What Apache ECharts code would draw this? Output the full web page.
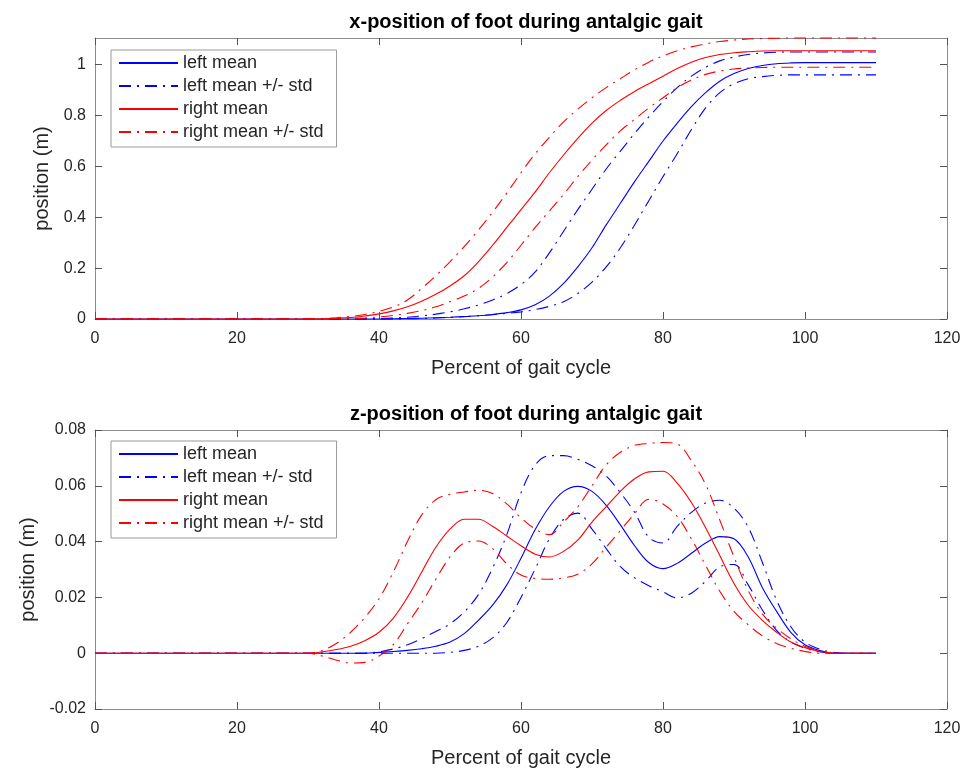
<!DOCTYPE html>
<html>
<head>
<meta charset="utf-8">
<script src="https://cdn.jsdelivr.net/npm/echarts@6/dist/echarts.min.js"></script>
<style>html,body{margin:0;padding:0;background:#fff;}#c{width:973px;height:773px;}</style>
</head>
<body>
<div id="c"></div>
<script>
// Percent of gait cycle (shared x values)
const xPct = [0,20,28,30,32,34,36,38,40,42,44,46,48,50,52,54,56,58,60,62,64,66,68,70,72,74,76,78,80,82,84,86,88,90,92,94,96,98,100,102,104,106,108,110];

// x-position (m)
const leftMeanX = [0,0, 0,0,0,0,0,0,0,0.001,0.002,0.003,0.005,0.007,0.01,0.013,0.018,0.025,0.036,0.056,0.09,0.14,0.205,0.28,0.37,0.455,0.54,0.62,0.7,0.77,0.835,0.89,0.935,0.965,0.985,0.997,1.004,1.007,1.008,1.008,1.008,1.008,1.008,1.008];
const leftUpX   = [0,0, 0,0,0,0,0,0.001,0.002,0.004,0.007,0.012,0.019,0.028,0.04,0.055,0.075,0.1,0.135,0.185,0.26,0.345,0.43,0.51,0.59,0.66,0.73,0.795,0.855,0.91,0.955,0.99,1.015,1.03,1.04,1.046,1.049,1.05,1.05,1.05,1.05,1.05,1.05,1.05];
const leftLoX   = [0,0, 0,0,0,0,0,0,0,0,0.001,0.002,0.004,0.006,0.009,0.013,0.017,0.022,0.028,0.037,0.05,0.068,0.1,0.145,0.205,0.28,0.37,0.465,0.56,0.65,0.745,0.83,0.89,0.925,0.945,0.953,0.958,0.96,0.96,0.96,0.96,0.96,0.96,0.96];
const rightMeanX = [0,0, 0,0,0.001,0.003,0.006,0.012,0.02,0.032,0.048,0.07,0.097,0.13,0.17,0.225,0.29,0.36,0.43,0.5,0.575,0.645,0.71,0.77,0.82,0.86,0.895,0.925,0.955,0.985,1.01,1.028,1.04,1.047,1.051,1.054,1.055,1.055,1.055,1.055,1.055,1.055,1.055,1.055];
const rightUpX   = [0,0, 0,0.001,0.002,0.005,0.01,0.018,0.03,0.047,0.075,0.12,0.17,0.225,0.285,0.35,0.42,0.495,0.575,0.65,0.715,0.775,0.825,0.87,0.91,0.945,0.98,1.01,1.035,1.055,1.07,1.082,1.091,1.097,1.101,1.103,1.104,1.105,1.105,1.105,1.105,1.105,1.105,1.105];
const rightLoX   = [0,0, 0,0,0,0.001,0.002,0.004,0.008,0.014,0.022,0.033,0.048,0.068,0.09,0.12,0.165,0.222,0.29,0.36,0.425,0.49,0.56,0.625,0.685,0.74,0.785,0.83,0.87,0.91,0.94,0.962,0.975,0.983,0.987,0.989,0.99,0.99,0.99,0.99,0.99,0.99,0.99,0.99];

// z-position (m)
const leftMeanZ = [0,0, 0,0,0,0,0,0,0.0003,0.0006,0.001,0.0016,0.0025,0.004,0.007,0.0118,0.0172,0.0245,0.034,0.0443,0.0525,0.058,0.0598,0.058,0.053,0.046,0.0385,0.0325,0.0303,0.0322,0.0358,0.0395,0.0418,0.041,0.0345,0.0235,0.015,0.0075,0.003,0.001,0,0,0,0];
const leftUpZ   = [0,0, 0,0,0,0,0,0,0.0005,0.0015,0.003,0.0052,0.0078,0.0105,0.0148,0.021,0.0305,0.0425,0.0575,0.0675,0.0708,0.0708,0.0695,0.0672,0.0635,0.0575,0.0505,0.0415,0.0395,0.0455,0.0505,0.0538,0.0548,0.052,0.0452,0.0325,0.019,0.0095,0.004,0.0015,0.0003,0,0,0];
const leftLoZ   = [0,0, 0,0,0,0,0,0,0,0,0,0,0,0.0003,0.001,0.0025,0.0055,0.011,0.02,0.0302,0.041,0.048,0.0502,0.0445,0.0375,0.031,0.027,0.0242,0.022,0.0198,0.0215,0.0258,0.031,0.0318,0.0245,0.0155,0.0082,0.004,0.0018,0.0005,0,0,0,0];
const rightMeanZ = [0,0, 0,0,0.0005,0.0013,0.0025,0.0045,0.0075,0.0125,0.02,0.029,0.038,0.0445,0.048,0.048,0.0455,0.042,0.0385,0.0355,0.0345,0.0365,0.0405,0.047,0.0525,0.058,0.0625,0.065,0.0652,0.061,0.054,0.045,0.035,0.025,0.0172,0.0118,0.0075,0.004,0.002,0.0007,0,0,0,0];
const rightUpZ   = [0,0, 0,0,0.001,0.0035,0.0075,0.0128,0.0195,0.029,0.04,0.0495,0.055,0.057,0.0578,0.0584,0.0572,0.0535,0.0485,0.0445,0.0425,0.047,0.0525,0.06,0.0675,0.072,0.0745,0.0752,0.0755,0.075,0.069,0.0605,0.0477,0.0345,0.0225,0.014,0.009,0.0052,0.0025,0.0008,0,0,0,0];
const rightLoZ   = [0,0, 0,0,-0.001,-0.0025,-0.0035,-0.0033,-0.001,0.003,0.0105,0.018,0.0265,0.0345,0.0395,0.0402,0.0375,0.032,0.028,0.0268,0.0265,0.027,0.0283,0.032,0.038,0.044,0.05,0.0552,0.0535,0.049,0.041,0.0315,0.0222,0.015,0.0102,0.0062,0.0035,0.0018,0.0006,0,0,0,0,0];

const titles = ['x-position of foot during antalgic gait', 'z-position of foot during antalgic gait'];
const legendNames = ['left mean', 'left mean +/- std', 'right mean', 'right mean +/- std'];
const xTicks = [0, 20, 40, 60, 80, 100, 120];
const yTicksTop = [0, 0.2, 0.4, 0.6, 0.8, 1];
const yTicksBottom = [-0.02, 0, 0.02, 0.04, 0.06, 0.08];

const FONT = '"Liberation Sans", Arial, Helvetica, sans-serif';
const AX = '#8c8c8c';
const TXT = '#262626';
const BLUE = '#0000ff', RED = '#ff0000';
const DASHDOT = [12, 6, 2, 6];

function pair(ys) { return xPct.map((x, i) => [x, ys[i]]); }

function xAxes(grid) {
  const base = {
    gridIndex: grid, type: 'value', min: xTicks[0], max: xTicks[xTicks.length - 1], interval: 20,
    splitLine: { show: false },
    axisLine: { show: true, onZero: false, lineStyle: { color: AX, width: 1 } },
    axisTick: { show: true, inside: true, length: 7, lineStyle: { color: '#555', width: 1 } }
  };
  return [
    Object.assign({}, base, {
      position: 'bottom',
      name: 'Percent of gait cycle', nameLocation: 'middle', nameGap: 39,
      nameTextStyle: { fontFamily: FONT, fontSize: 20, color: TXT },
      axisLabel: { show: true, margin: 12, fontFamily: FONT, fontSize: 16, color: TXT }
    }),
    Object.assign({}, base, { position: 'top', axisLabel: { show: false } })
  ];
}

function yAxes(grid, ticks, max) {
  const base = {
    gridIndex: grid, type: 'value', min: ticks[0], max: max, interval: ticks[1] - ticks[0],
    splitLine: { show: false },
    axisLine: { show: true, onZero: false, lineStyle: { color: AX, width: 1 } },
    axisTick: { show: true, inside: true, length: 7, customValues: ticks, lineStyle: { color: '#555', width: 1 } }
  };
  return [
    Object.assign({}, base, {
      position: 'left',
      name: 'position (m)', nameLocation: 'middle', nameGap: 40, nameRotate: 90,
      nameTextStyle: { fontFamily: FONT, fontSize: 20, color: TXT },
      axisLabel: { show: true, margin: 9, fontFamily: FONT, fontSize: 16, color: TXT, customValues: ticks,
        formatter: v => String(+v.toFixed(4)) }
    }),
    Object.assign({}, base, { position: 'right', axisLabel: { show: false } })
  ];
}

function makeSeries(xi, yi, sets) {
  const defs = [
    ['left mean', sets[0], BLUE, 'solid'],
    ['left mean +/- std', sets[1], BLUE, DASHDOT],
    ['left mean +/- std', sets[2], BLUE, DASHDOT],
    ['right mean', sets[3], RED, 'solid'],
    ['right mean +/- std', sets[4], RED, DASHDOT],
    ['right mean +/- std', sets[5], RED, DASHDOT]
  ];
  return defs.map(d => ({
    type: 'line', name: d[0], xAxisIndex: xi, yAxisIndex: yi,
    data: pair(d[1]), showSymbol: false, symbol: 'none', smooth: 0.35, clip: false,
    color: d[2],
    lineStyle: { color: d[2], width: 1.1, type: d[3] },
    emphasis: { disabled: true }, silent: true
  }));
}

function legend(top) {
  return {
    data: legendNames, orient: 'vertical', left: 111, top: top,
    itemWidth: 59, itemHeight: 14, itemGap: 5,
    padding: [4, 13, 6, 7],
    itemStyle: { opacity: 0 },
    backgroundColor: '#fff', borderColor: '#999', borderWidth: 1, borderRadius: 0,
    textStyle: { fontFamily: FONT, fontSize: 18, color: TXT },
    selectedMode: false
  };
}

const chart = echarts.init(document.getElementById('c'), null, { renderer: 'canvas' });
chart.setOption({
  animation: false,
  backgroundColor: '#fff',
  title: [
    { text: titles[0], left: 521, top: 7, textAlign: 'center',
      textStyle: { fontFamily: FONT, fontSize: 20, fontWeight: 'bold', color: '#000' } },
    { text: titles[1], left: 521, top: 399, textAlign: 'center',
      textStyle: { fontFamily: FONT, fontSize: 20, fontWeight: 'bold', color: '#000' } }
  ],
  grid: [
    { left: 95, right: 26, top: 38, height: 281 },
    { left: 95, right: 26, top: 430, height: 279 }
  ],
  legend: [legend(50), legend(441)],
  xAxis: xAxes(0).concat(xAxes(1)),
  yAxis: yAxes(0, yTicksTop, 1.105).concat(yAxes(1, yTicksBottom, 0.08)),
  series: makeSeries(0, 0, [leftMeanX, leftUpX, leftLoX, rightMeanX, rightUpX, rightLoX])
    .concat(makeSeries(2, 2, [leftMeanZ, leftUpZ, leftLoZ, rightMeanZ, rightUpZ, rightLoZ]))
});
</script>
</body>
</html>
